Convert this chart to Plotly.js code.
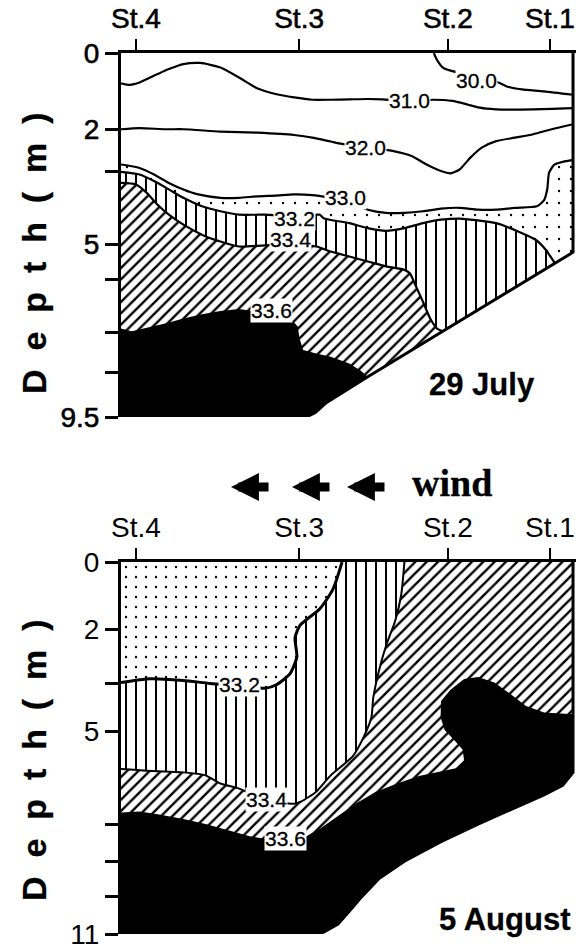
<!DOCTYPE html>
<html>
<head>
<meta charset="utf-8">
<script src="https://cdn.plot.ly/plotly-3.0.1.min.js"></script>
<style>
  html, body { margin: 0; padding: 0; background: #fff; }
  #chart { width: 576px; height: 950px; }
  /* slightly heavier lettering, like the printed figure */
  #chart .xtick text, #chart .ytick text { stroke: #000; stroke-width: 0.6px; }
  #chart .annotation-text { stroke: #000; stroke-width: 0.3px; }
</style>
</head>
<body>
<div id="chart"></div>
<script>
// Salinity sections between stations St.4 and St.1.
// x: relative distance along the section (0-100), d: depth in metres.

const stationNames = ['St.4', 'St.3', 'St.2', 'St.1'];
const stationX = [3.3, 39.4, 72.3, 94.9];

// ---- 29 July ----
const julyTickVals = [0, 2, 3.1, 5, 5.9, 7.3, 8.35, 9.5];
const julyTickText = ['0', '2', '', '5', '', '', '', '9.5'];

const jul300X = [69.2, 70.0, 71.2, 72.9, 78.6, 83.5, 85.5, 88.7, 93.6, 100];
const jul300D = [0, 0.20, 0.38, 0.46, 0.62, 0.77, 0.88, 0.95, 1.00, 1.09];

const jul310X = [0, 2.0, 4.1, 8.1, 10.6, 13.8, 17.5, 22.0, 26.1, 30.1, 34.2, 38.3, 42.3, 46.4, 50.5, 54.6, 57.8, 63.9, 69.2, 73.3, 76.5, 79.0, 83.0, 91.2, 100];
const jul310D = [0.79, 0.83, 0.77, 0.55, 0.42, 0.29, 0.26, 0.38, 0.64, 0.92, 1.07, 1.16, 1.22, 1.22, 1.21, 1.20, 1.21, 1.25, 1.22, 1.25, 1.34, 1.42, 1.47, 1.47, 1.44];

const jul320X = [0, 4.1, 9.8, 13.8, 22.0, 30.1, 38.3, 42.3, 46.4, 48.9, 54.1, 60.3, 64.3, 67.6, 70.8, 72.9, 74.9, 77.3, 79.8, 83.0, 87.1, 91.2, 95.3, 100];
const jul320D = [1.99, 1.96, 1.99, 1.99, 2.05, 2.08, 2.14, 2.21, 2.31, 2.37, 2.47, 2.56, 2.69, 2.91, 3.08, 3.14, 3.04, 2.73, 2.47, 2.30, 2.21, 2.12, 1.99, 1.86];

const jul330X = [0, 4.1, 7.3, 10.6, 13.8, 17.1, 22.0, 26.1, 30.1, 34.2, 38.3, 42.3, 49.7, 54.6, 58.6, 62.7, 66.8, 70.8, 74.9, 79.0, 83.0, 87.1, 92.0, 93.6, 94.3, 94.7, 95.8, 97.8, 100];
const jul330D = [2.91, 3.00, 3.17, 3.39, 3.56, 3.69, 3.78, 3.78, 3.74, 3.72, 3.69, 3.71, 3.85, 4.09, 4.17, 4.17, 4.13, 4.06, 4.04, 4.09, 4.09, 4.04, 4.00, 3.84, 3.55, 3.13, 2.92, 2.84, 2.79];

const jul332X = [0, 4.1, 7.3, 10.6, 13.8, 17.9, 22.0, 26.1, 31.8, 38.3, 44.0, 44.8, 50.5, 54.6, 58.6, 62.7, 66.8, 70.8, 74.9, 78.5, 83.0, 88.1, 91.8, 94.0, 96.0];
const jul332D = [3.10, 3.17, 3.34, 3.56, 3.78, 4.00, 4.13, 4.22, 4.22, 4.28, 4.22, 4.31, 4.44, 4.57, 4.64, 4.57, 4.44, 4.35, 4.32, 4.36, 4.44, 4.67, 4.88, 5.14, 5.49];

const jul334X = [0, 3.3, 5.7, 8.1, 10.6, 13.8, 17.9, 22.0, 26.1, 31.8, 37.5, 43.2, 46.4, 50.5, 54.6, 58.6, 62.7, 63.9, 65.1, 66.8, 68.4, 70.0, 71.2];
const jul334D = [3.39, 3.43, 3.65, 3.96, 4.22, 4.48, 4.74, 4.92, 5.05, 5.02, 5.00, 5.05, 5.18, 5.31, 5.44, 5.57, 5.66, 5.75, 6.05, 6.49, 6.93, 7.20, 7.26];

const jul336X = [0, 2.4, 5.7, 9.8, 13.8, 17.9, 22.0, 26.1, 30.1, 33.4, 37.5, 39.1, 39.5, 40.3, 43.2, 46.4, 50.5, 52.9, 54.6];
const jul336D = [7.19, 7.26, 7.17, 7.06, 6.93, 6.82, 6.73, 6.68, 6.75, 6.75, 6.93, 7.14, 7.45, 7.75, 7.84, 7.93, 8.10, 8.28, 8.45];

// sea bed, from the St.1 side towards St.4
const julBedX = [100, 54.6, 45.5, 43, 41, 0];
const julBedD = [5.2, 8.45, 9.12, 9.38, 9.5, 9.5];

const julLabels = ['30.0', '31.0', '32.0', '33.0', '33.2', '33.4', '33.6'];
const julLabelX = [78.6, 63.9, 54.1, 49.7, 38.3, 37.5, 33.4];
const julLabelD = [0.72, 1.25, 2.47, 3.78, 4.31, 4.87, 6.71];

// ---- 5 August ----
const augTickVals = [0, 2, 3.6, 5, 7.75, 8.85, 9.9, 11];
const augTickText = ['0', '2', '', '5', '', '', '', '11'];

const aug332X = [48.9, 46.9, 44.0, 39.6, 38.5, 38.9, 37.4, 34.5, 31.9, 26.3, 19.7, 13.7, 6.4, 0];
const aug332D = [0, 0.80, 1.38, 1.87, 2.24, 2.81, 3.30, 3.62, 3.73, 3.66, 3.59, 3.50, 3.45, 3.56];

const aug334X = [62.7, 62.0, 60.7, 58.6, 57.0, 55.8, 55.4, 53.7, 51.3, 46.4, 43.2, 39.9, 38.3, 32.2, 26.1, 22.0, 18.7, 13.8, 5.7, 0];
const aug334D = [0, 0.96, 1.72, 2.49, 3.25, 4.02, 4.59, 5.17, 5.74, 6.31, 6.79, 7.08, 7.15, 7.03, 6.70, 6.55, 6.31, 6.22, 6.17, 6.12];

const aug336X = [0, 4.1, 8.1, 13.8, 18.7, 23.6, 28.5, 31.8, 36.5, 40.7, 44.0, 48.0, 52.1, 56.2, 61.1, 65.9, 70.8, 74.1, 75.9, 75.6, 73.7, 71.6, 70.7, 70.8, 72.9, 75.9, 79.0, 82.6, 86.3, 89.6, 93.6, 100];
const aug336D = [7.41, 7.38, 7.46, 7.60, 7.75, 7.94, 8.11, 8.18, 8.20, 8.13, 7.89, 7.51, 7.13, 6.81, 6.55, 6.33, 6.20, 6.10, 5.88, 5.55, 5.26, 4.97, 4.59, 4.11, 3.78, 3.46, 3.40, 3.56, 3.92, 4.26, 4.45, 4.50];

const augBedX = [100, 97.7, 93.6, 87.1, 79.0, 70.8, 62.7, 57.0, 52.9, 50.5, 48.0, 44.8, 41.5, 0];
const augBedD = [6.22, 6.60, 6.89, 7.27, 7.75, 8.27, 8.85, 9.37, 9.95, 10.33, 10.71, 10.95, 11.0, 11.0];

const augLabels = ['33.2', '33.4', '33.6'];
const augLabelX = [26.3, 32.2, 36.5];
const augLabelD = [3.62, 7.03, 8.18];

// ---------------------------------------------------------------
const FONT = 'Liberation Sans, Arial, Helvetica, sans-serif';
const SERIF = 'Liberation Serif, Times New Roman, serif';

const PAT = {
  dotsJul: { shape: '.', size: 12, solidity: 0.03, fgcolor: 'black', bgcolor: 'white' },
  dotsAug: { shape: '.', size: 10, solidity: 0.045, fgcolor: 'black', bgcolor: 'white' },
  vert:    { shape: '|', size: 10, solidity: 0.2, fgcolor: 'black', bgcolor: 'white' },
  diag:    { shape: '/', size: 8, solidity: 0.3, fgcolor: 'black', bgcolor: 'white' }
};

// close an isohaline onto the sea bed (bed runs right -> left)
function closeOnBed(cx, cd, bx, bd) {
  const last = cx[cx.length - 1];
  const xs = cx.slice(), ds = cd.slice();
  for (let i = 0; i < bx.length; i++) {
    if (bx[i] < last - 1e-9 || last >= 100) { xs.push(bx[i]); ds.push(bd[i]); }
  }
  return [xs, ds];
}

function region(xs, ds, ax, pattern, solid) {
  const t = {
    type: 'scatter', mode: 'lines', x: xs, y: ds, xaxis: ax.x, yaxis: ax.y,
    fill: 'toself', line: { width: 0, color: 'rgba(0,0,0,0)' }, hoverinfo: 'skip'
  };
  if (solid) { t.fillcolor = 'black'; }
  else { t.fillcolor = 'white'; t.fillpattern = pattern; }
  return t;
}

function line(xs, ds, ax, w) {
  return {
    type: 'scatter', mode: 'lines', x: xs, y: ds, xaxis: ax.x, yaxis: ax.y,
    line: { color: 'black', width: w || 2, shape: 'spline', smoothing: 0.6 }, hoverinfo: 'skip'
  };
}

const A1 = { x: 'x', y: 'y' };
const A2 = { x: 'x2', y: 'y2' };
const traces = [];

// 29 July regions, layered from lower to higher salinity
let p = closeOnBed(jul330X, jul330D, julBedX, julBedD);
traces.push(region(p[0], p[1], A1, PAT.dotsJul));
p = closeOnBed(jul332X, jul332D, julBedX, julBedD);
traces.push(region(p[0], p[1], A1, PAT.vert));
p = closeOnBed(jul334X, jul334D, julBedX, julBedD);
traces.push(region(p[0], p[1], A1, PAT.diag));
p = closeOnBed(jul336X, jul336D, julBedX, julBedD);
traces.push(region(p[0], p[1], A1, null, true));

[[jul300X, jul300D], [jul310X, jul310D], [jul320X, jul320D], [jul330X, jul330D],
 [jul332X, jul332D], [jul334X, jul334D]].forEach(c => traces.push(line(c[0], c[1], A1, 2.2)));

// right wall and sea bed
traces.push({
  type: 'scatter', mode: 'lines', xaxis: 'x', yaxis: 'y', hoverinfo: 'skip',
  x: [100].concat(julBedX.slice(0, 5)), y: [0].concat(julBedD.slice(0, 5)),
  line: { color: 'black', width: 3 }
});

// 5 August regions
const augBedRev = [augBedX.slice().reverse(), augBedD.slice().reverse()];
traces.push(region([0, 100].concat(augBedX), [0, 0].concat(augBedD), A2, PAT.dotsAug));
traces.push(region(aug332X.concat(augBedRev[0], [100]), aug332D.concat(augBedRev[1], [0]), A2, PAT.vert));
traces.push(region(aug334X.concat(augBedRev[0], [100]), aug334D.concat(augBedRev[1], [0]), A2, PAT.diag));
traces.push(region(aug336X.concat(augBedX), aug336D.concat(augBedD), A2, null, true));

traces.push(line(aug332X, aug332D, A2, 3));
traces.push(line(aug334X, aug334D, A2, 2));

traces.push({
  type: 'scatter', mode: 'lines', xaxis: 'x2', yaxis: 'y2', hoverinfo: 'skip',
  x: [100].concat(augBedX.slice(0, 13)), y: [0].concat(augBedD.slice(0, 13)),
  line: { color: 'black', width: 3 }
});

// ---------------------------------------------------------------
function xAxis(anchor) {
  return {
    domain: [0, 1], range: [0, 100.66], anchor: anchor, side: 'top',
    showline: true, linewidth: 3, linecolor: 'black', mirror: false,
    ticks: 'outside', ticklen: 11, tickwidth: 2.5, tickcolor: 'black',
    tickvals: stationX, ticktext: stationNames,
    tickfont: { family: FONT, size: 28, color: 'black' },
    ticklabeloverflow: 'allow',
    showgrid: false, zeroline: false, fixedrange: true
  };
}
function yAxis(domain, range, vals, text, anchor) {
  return {
    domain: domain, range: range, anchor: anchor,
    showline: true, linewidth: 3, linecolor: 'black',
    ticks: 'outside', ticklen: 13, tickwidth: 3, tickcolor: 'black',
    tickvals: vals, ticktext: text,
    tickfont: { family: FONT, size: 28, color: 'black' },
    ticklabeloverflow: 'allow',
    showgrid: false, zeroline: false, fixedrange: true
  };
}

const annotations = [];
function contourLabels(texts, xs, ds, xr, yr) {
  texts.forEach((t, i) => annotations.push({
    xref: xr, yref: yr, x: xs[i], y: ds[i], text: t, showarrow: false,
    font: { family: FONT, size: 21, color: 'black' },
    bgcolor: 'white', borderpad: 0
  }));
}
contourLabels(julLabels, julLabelX, julLabelD, 'x', 'y');
contourLabels(augLabels, augLabelX, augLabelD, 'x2', 'y2');

const depthTitle = 'D\u00a0\u00a0e\u00a0\u00a0p\u00a0\u00a0t\u00a0\u00a0h\u00a0\u00a0(\u00a0\u00a0m\u00a0\u00a0)';
[0.7719, 0.1964].forEach(yy => annotations.push({
  xref: 'paper', yref: 'paper', x: -0.1912, y: yy, xanchor: 'center', yanchor: 'middle',
  text: '<b>' + depthTitle + '</b>', textangle: -90, showarrow: false,
  font: { family: FONT, size: 34, color: 'black' }
}));

annotations.push({
  xref: 'paper', yref: 'paper', x: 0.9143, y: 0.6232, xanchor: 'right', yanchor: 'middle',
  text: '<b>29 July</b>', showarrow: false, font: { family: FONT, size: 31, color: 'black' }
});
annotations.push({
  xref: 'paper', yref: 'paper', x: 0.9912, y: 0.0159, xanchor: 'right', yanchor: 'middle',
  text: '<b>5 August</b>', showarrow: false, font: { family: FONT, size: 31, color: 'black' }
});

// wind direction
annotations.push({
  xref: 'paper', yref: 'paper', x: 0.6352, y: 0.5119, xanchor: 'left', yanchor: 'middle',
  text: '<b>wind</b>', showarrow: false, font: { family: SERIF, size: 38, color: 'black' }
});
[0.2418, 0.3758, 0.4967].forEach(xx => annotations.push({
  xref: 'paper', yref: 'paper', x: xx, y: 0.5074, ax: 39, ay: 0,
  text: '', showarrow: true, arrowhead: 2, arrowsize: 0.62, arrowwidth: 9, arrowcolor: 'black'
}));

const layout = {
  width: 576, height: 950,
  margin: { l: 121, r: 0, t: 53, b: 16 },
  paper_bgcolor: 'white', plot_bgcolor: 'white',
  showlegend: false,
  xaxis: xAxis('y'),
  yaxis: yAxis([0.5868, 1], [9.5, 0], julyTickVals, julyTickText, 'x'),
  xaxis2: xAxis('y2'),
  yaxis2: yAxis([0, 0.4222], [11, 0], augTickVals, augTickText, 'x2'),
  annotations: annotations
};

Plotly.newPlot('chart', traces, layout, { displayModeBar: false, staticPlot: true });
</script>
</body>
</html>
